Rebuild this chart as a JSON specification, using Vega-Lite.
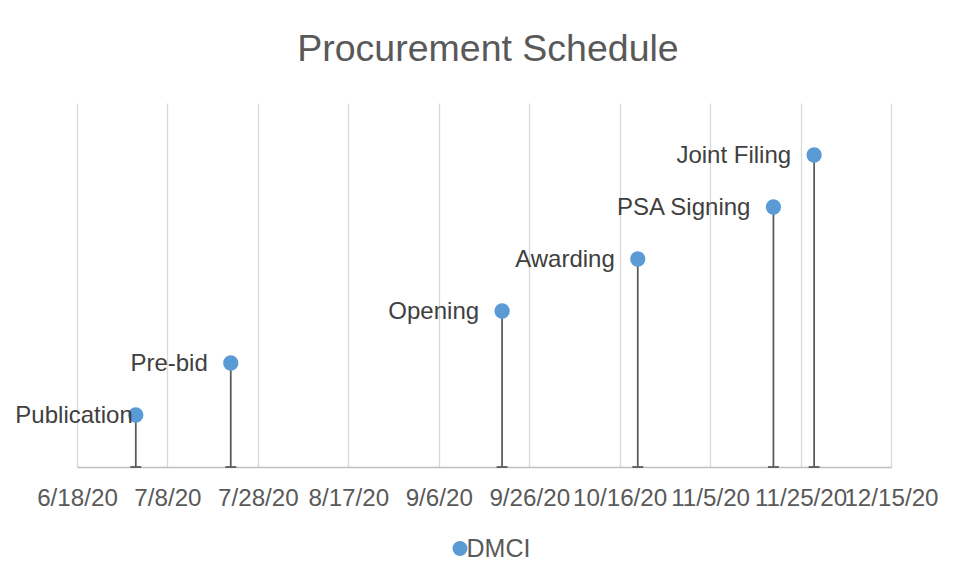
{
  "$schema": "https://vega.github.io/schema/vega-lite/v6.json",
  "width": 814,
  "height": 364,
  "autosize": "none",
  "padding": {"left": 77, "top": 103, "right": 65, "bottom": 113},
  "background": "white",
  "config": {
    "view": {"stroke": null},
    "font": "Liberation Sans"
  },
  "title": {
    "text": "Procurement Schedule",
    "fontSize": 37.5,
    "fontWeight": "normal",
    "color": "#595959",
    "font": "Liberation Sans",
    "anchor": "middle",
    "frame": "group",
    "baseline": "alphabetic",
    "offset": 5,
    "dx": 4
  },
  "data": {
    "values": [
      {"event": "Publication", "date": "2020-07-01", "level": 1, "series": "DMCI"},
      {"event": "Pre-bid", "date": "2020-07-22", "level": 2, "series": "DMCI"},
      {"event": "Opening", "date": "2020-09-20", "level": 3, "series": "DMCI"},
      {"event": "Awarding", "date": "2020-10-20", "level": 4, "series": "DMCI"},
      {"event": "PSA Signing", "date": "2020-11-19", "level": 5, "series": "DMCI"},
      {"event": "Joint Filing", "date": "2020-11-28", "level": 6, "series": "DMCI"}
    ]
  },
  "encoding": {
    "x": {
      "field": "date",
      "type": "temporal",
      "scale": {
        "type": "utc",
        "domain": [
          {"year": 2020, "month": 6, "date": 18, "utc": true},
          {"year": 2020, "month": 12, "date": 15, "utc": true}
        ]
      },
      "axis": {
        "title": null,
        "values": [
          {"year": 2020, "month": 6, "date": 18, "utc": true},
          {"year": 2020, "month": 7, "date": 8, "utc": true},
          {"year": 2020, "month": 7, "date": 28, "utc": true},
          {"year": 2020, "month": 8, "date": 17, "utc": true},
          {"year": 2020, "month": 9, "date": 6, "utc": true},
          {"year": 2020, "month": 9, "date": 26, "utc": true},
          {"year": 2020, "month": 10, "date": 16, "utc": true},
          {"year": 2020, "month": 11, "date": 5, "utc": true},
          {"year": 2020, "month": 11, "date": 25, "utc": true},
          {"year": 2020, "month": 12, "date": 15, "utc": true}
        ],
        "labelExpr": "utcFormat(datum.value, '%-m/%-d/%y')",
        "labelFont": "Liberation Sans",
        "labelFontSize": 24.2,
        "labelColor": "#595959",
        "labelOverlap": false,
        "labelBound": false,
        "labelFlush": false,
        "labelBaseline": "alphabetic",
        "labelPadding": 38,
        "ticks": false,
        "tickSize": 0,
        "grid": true,
        "gridColor": "#d9d9d9",
        "gridWidth": 1.3,
        "domainColor": "#bfbfbf",
        "domainWidth": 1.3
      }
    }
  },
  "layer": [
    {
      "mark": {"type": "rule", "color": "#595959", "strokeWidth": 1.75},
      "encoding": {
        "y": {"field": "level", "type": "quantitative", "scale": {"domain": [0, 7]}, "axis": null},
        "y2": {"datum": 0}
      }
    },
    {
      "mark": {"type": "tick", "orient": "horizontal", "color": "#595959", "size": 11, "thickness": 1.75, "opacity": 1},
      "encoding": {
        "y": {"datum": 0, "type": "quantitative"}
      }
    },
    {
      "mark": {"type": "point", "shape": "circle", "filled": true, "size": 234, "opacity": 1},
      "encoding": {
        "y": {"field": "level", "type": "quantitative"},
        "color": {
          "field": "series",
          "type": "nominal",
          "scale": {"range": ["#5b9bd5"]},
          "legend": {
            "title": null,
            "orient": "none",
            "legendX": 370.5,
            "legendY": 433,
            "direction": "horizontal",
            "padding": 0,
            "symbolType": "circle",
            "symbolSize": 225,
            "symbolStrokeWidth": 0,
            "labelFont": "Liberation Sans",
            "labelFontSize": 25,
            "labelColor": "#595959",
            "labelOffset": -6
          }
        }
      }
    },
    {
      "transform": [{"filter": "datum.event != 'Publication'"}],
      "mark": {"type": "text", "align": "right", "baseline": "middle", "dx": -23, "dy": 1, "fontSize": 24, "font": "Liberation Sans", "color": "#404040"},
      "encoding": {
        "y": {"field": "level", "type": "quantitative"},
        "text": {"field": "event"}
      }
    },
    {
      "transform": [{"filter": "datum.event == 'Publication'"}],
      "mark": {"type": "text", "align": "right", "baseline": "middle", "dx": -3, "dy": 1, "fontSize": 24, "font": "Liberation Sans", "color": "#404040"},
      "encoding": {
        "y": {"field": "level", "type": "quantitative"},
        "text": {"field": "event"}
      }
    }
  ]
}
